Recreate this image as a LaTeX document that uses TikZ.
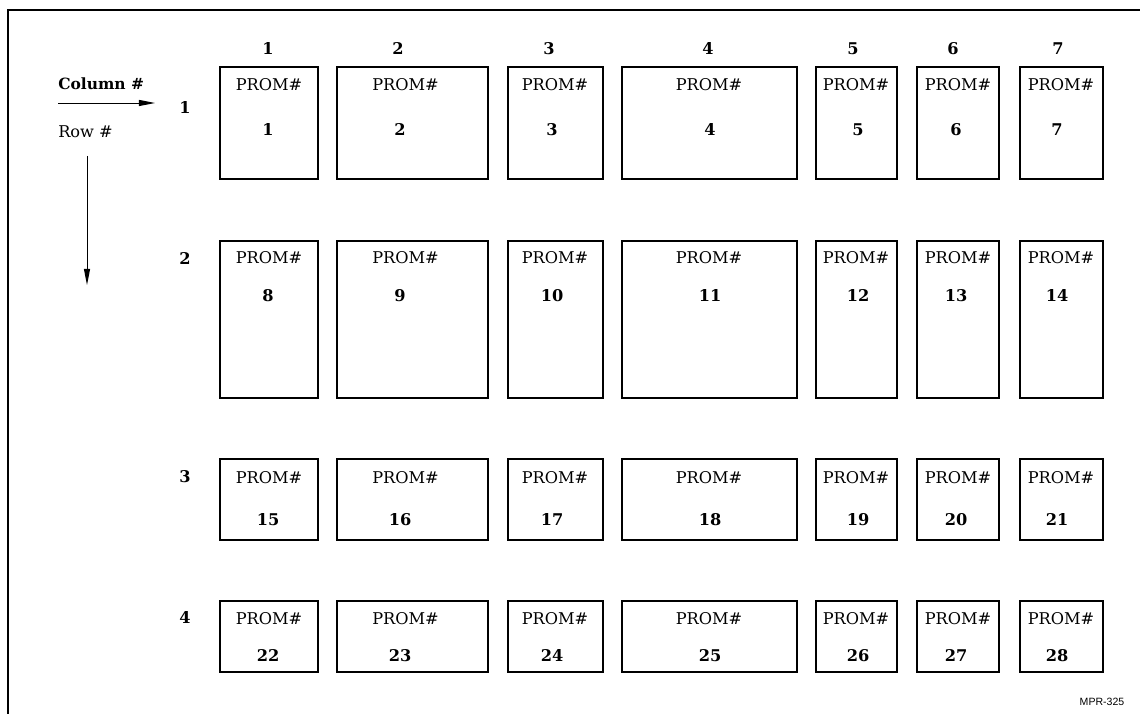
\documentclass[tikz,border=0pt]{standalone}
\usepackage{fontspec}
\setmainfont{DejaVu Serif}
\newfontfamily\tagfont{Liberation Sans}
\usetikzlibrary{arrows.meta, positioning}

\begin{document}
\begin{tikzpicture}[x=0.025cm, y=-0.025cm,
        every node/.style={font=\fontsize{11.5}{13}\selectfont, inner sep=0pt},
        cell/.style={rectangle, draw=black, line width=1.3pt},
        hd/.style={font=\fontsize{11.5}{13}\selectfont\bfseries},
        num/.style={font=\fontsize{11.5}{13}\selectfont\bfseries, text height=8.4pt, text depth=0pt},
        arr/.style={-{Triangle[length=4mm,width=1.5mm]}, line width=0.7pt},
        frame/.style={line width=1.2pt}]
      \useasboundingbox (0,0) rectangle (1140,714);
      \draw[frame] (8,714) -- (8,10) -- (1140,10);

      % legend
      \node[hd, anchor=west, font=\fontsize{11}{13}\selectfont\bfseries] (col) at (58,84) {Column \#};
      \node[anchor=west] (row) at (58,132) {Row \#};
      \coordinate (ca) at (58,103);
      \coordinate (cb) at (155,103);
      \coordinate (ra) at (87,156);
      \coordinate (rb) at (87,285);
      \draw[arr] (ca) -- (cb);
      \draw[arr] (ra) -- (rb);

      % column and row numbers
      \foreach \c/\tx in {1/268, 2/398, 3/549, 4/708, 5/853, 6/953, 7/1058}
        \node[hd] (h\c) at (\tx,49) {\c};
      \foreach \r/\ly in {1/108, 2/259, 3/477, 4/618}
        \node[hd] (r\r) at (185,\ly) {\r};

      % PROM boxes
      \foreach \c/\cx/\w/\px/\nx in {1/269/98/269/268, 2/412.5/151/405.5/400,
                                     3/555.5/95/555/552, 4/709.5/175/709/710,
                                     5/856.5/81/856/858, 6/958/82/958/956,
                                     7/1061.5/83/1061/1057}
        \foreach \r/\cy/\h/\py/\ny in {1/123/112/85/130, 2/319.5/157/258/296,
                                       3/499.5/81/478/520, 4/636.5/71/619/656} {
          \pgfmathtruncatemacro\n{(\r-1)*7+\c}
          \node[cell, minimum width=\w*0.025cm, minimum height=\h*0.025cm] (b\n) at (\cx,\cy) {};
          \node (p\n) at (\px,\py) {PROM\#};
          \node[num] (n\n) at (\nx,\ny) {\n};
        }

      \node[font=\tagfont\fontsize{7.5}{9}\selectfont] (mpr) at (1102,702) {MPR-325};
    \end{tikzpicture}
\end{document}
